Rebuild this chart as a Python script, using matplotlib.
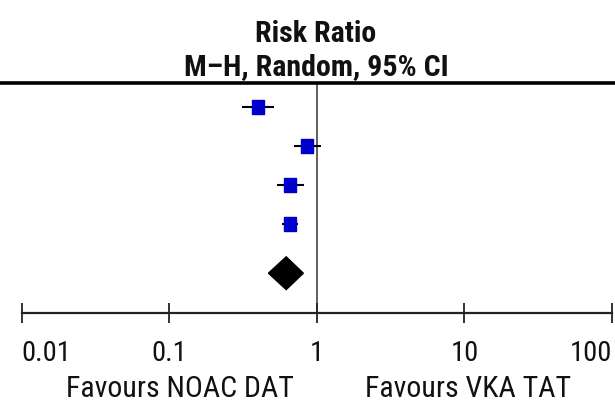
import numpy as np
import matplotlib.pyplot as plt
from matplotlib.lines import Line2D
from matplotlib.patches import Polygon

# risk ratios per study
rr = [0.40, 0.86, 0.66, 0.66]
ci_lo = [0.31, 0.70, 0.54, 0.58]
ci_hi = [0.51, 1.06, 0.82, 0.75]

# pooled estimate (diamond)
pooled = 0.62
pooled_lo = 0.47
pooled_hi = 0.81

tick_vals = [0.01, 0.1, 1, 10, 100]
tick_labels = ['0.01', '0.1', '1', '10', '100']
title_lines = ['Risk Ratio', 'M\u2013H, Random, 95% CI']
favours = ['Favours NOAC DAT', 'Favours VKA TAT']

# narrow Arial-like face
plt.rcParams['font.family'] = ['Roboto Condensed', 'Liberation Sans', 'DejaVu Sans']

fig = plt.figure(figsize=(6.15, 4.05), dpi=100)
ax = fig.add_axes([21.7 / 615, 1 - 313 / 405, (612 - 21.7) / 615, (313 - 83) / 405])

ax.set_xscale('log')
ax.set_xlim(0.01, 100)
ax.set_ylim(5.28, -0.615)

rows = np.arange(len(rr))
pooled_row = len(rr) + 0.26

# confidence intervals
ax.hlines(rows, ci_lo, ci_hi, color='black', lw=1.5, zorder=2)
# squares (slightly taller than wide, as in the source)
rect = [(-0.8, -1), (0.8, -1), (0.8, 1), (-0.8, 1), (-0.8, -1)]
ax.plot(rr, rows, ls='none', marker=rect, ms=10.5, color='#0000cc', zorder=3)

# pooled diamond
h = 0.42
dia = Polygon([(pooled_lo, pooled_row), (pooled, pooled_row - h),
               (pooled_hi, pooled_row), (pooled, pooled_row + h)],
              closed=True, facecolor='black', edgecolor='black', zorder=3)
ax.add_patch(dia)

# line of no effect
ax.axvline(1, color='#333333', lw=1.1, zorder=1)

for s in ['top', 'left', 'right']:
    ax.spines[s].set_visible(False)
ax.spines['bottom'].set_linewidth(1.6)
ax.spines['bottom'].set_color('#222222')
ax.set_yticks([])
ax.set_xticks(tick_vals)
ax.set_xticklabels(tick_labels)
ax.minorticks_off()
ax.tick_params(axis='x', direction='inout', length=14, width=1.3,
               color='#222222', labelsize=20.5, labelcolor='#111111', pad=12.5)
tl = ax.get_xticklabels()
tl[0].set_horizontalalignment('left')
tl[-1].set_horizontalalignment('right')

# heading rule across the full width
fig.add_artist(Line2D([0, 1], [1 - 83 / 405, 1 - 83 / 405], color='black', lw=2.6))

fig.text(316 / 615, 1 - 42 / 405, title_lines[0], ha='center', va='baseline',
         fontsize=21.5, fontweight='bold', color='#111111')
fig.text(316 / 615, 1 - 75.5 / 405, title_lines[1], ha='center', va='baseline',
         fontsize=21.5, fontweight='bold', color='#111111')

fig.text(180 / 615, 1 - 397 / 405, favours[0], ha='center', va='baseline',
         fontsize=21.5, color='#111111')
fig.text(468 / 615, 1 - 397 / 405, favours[1], ha='center', va='baseline',
         fontsize=21.5, color='#111111')

fig.savefig('out.png', dpi=100)
